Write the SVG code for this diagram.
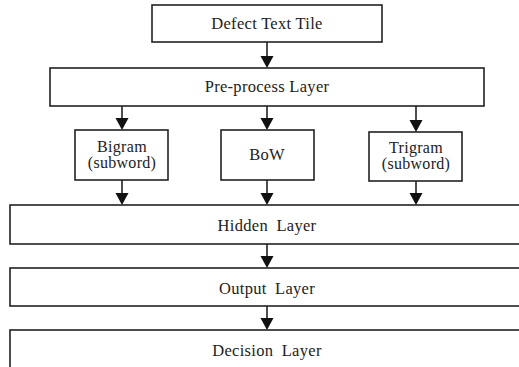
<svg xmlns="http://www.w3.org/2000/svg" width="519" height="367" viewBox="0 0 519 367">
<style>
.box{fill:#fff;stroke:#222;stroke-width:1.6}
.t{font-family:"Liberation Serif","Times New Roman",serif;font-size:16.5px;letter-spacing:0.3px;fill:#222;text-anchor:middle}
.s{font-size:16px}
.w{word-spacing:4px}
.c{stroke:#222;stroke-width:1.6;fill:none}
.h{fill:#111}
</style>
<defs>
<path id="ah" class="h" d="M-6.5,-12 L6.5,-12 L0,0 Z"/>
</defs>
<rect width="519" height="367" fill="#fff"/>
<g id="connectors">
<line class="c" x1="267" y1="42" x2="267" y2="57"/><use href="#ah" x="267" y="68"/>
<line class="c" x1="122" y1="106" x2="122" y2="119"/><use href="#ah" x="122" y="130"/>
<line class="c" x1="267" y1="106" x2="267" y2="119"/><use href="#ah" x="267" y="130"/>
<line class="c" x1="416" y1="106" x2="416" y2="121"/><use href="#ah" x="416" y="132"/>
<line class="c" x1="122" y1="180" x2="122" y2="194"/><use href="#ah" x="122" y="205"/>
<line class="c" x1="267" y1="180" x2="267" y2="194"/><use href="#ah" x="267" y="205"/>
<line class="c" x1="416" y1="181" x2="416" y2="194"/><use href="#ah" x="416" y="205"/>
<line class="c" x1="267" y1="244" x2="267" y2="257"/><use href="#ah" x="267" y="268"/>
<line class="c" x1="267" y1="306" x2="267" y2="319"/><use href="#ah" x="267" y="330"/>
</g>
<g id="defect">
<rect class="box" x="152" y="5" width="230" height="37"/>
<text class="t" x="267" y="29">Defect Text Tile</text>
</g>
<g id="preprocess">
<rect class="box" x="50" y="68" width="434" height="38"/>
<text class="t" x="267" y="92">Pre-process Layer</text>
</g>
<g id="bigram">
<rect class="box" x="75" y="130" width="93" height="50"/>
<text class="t s" x="122" y="151.5">Bigram</text>
<text class="t s" x="122" y="167.5">(subword)</text>
</g>
<g id="bow">
<rect class="box" x="221" y="130" width="93" height="50"/>
<text class="t" x="267" y="160">BoW</text>
</g>
<g id="trigram">
<rect class="box" x="369" y="132" width="93" height="49"/>
<text class="t s" x="416" y="152.5">Trigram</text>
<text class="t s" x="416" y="168.5">(subword)</text>
</g>
<g id="hidden">
<rect class="box" x="10" y="205" width="520" height="39"/>
<text class="t w" x="267" y="231">Hidden Layer</text>
</g>
<g id="output">
<rect class="box" x="10" y="268" width="520" height="38"/>
<text class="t w" x="267" y="294">Output Layer</text>
</g>
<g id="decision">
<rect class="box" x="10" y="330" width="520" height="45"/>
<text class="t w" x="267" y="356">Decision Layer</text>
</g>
</svg>
